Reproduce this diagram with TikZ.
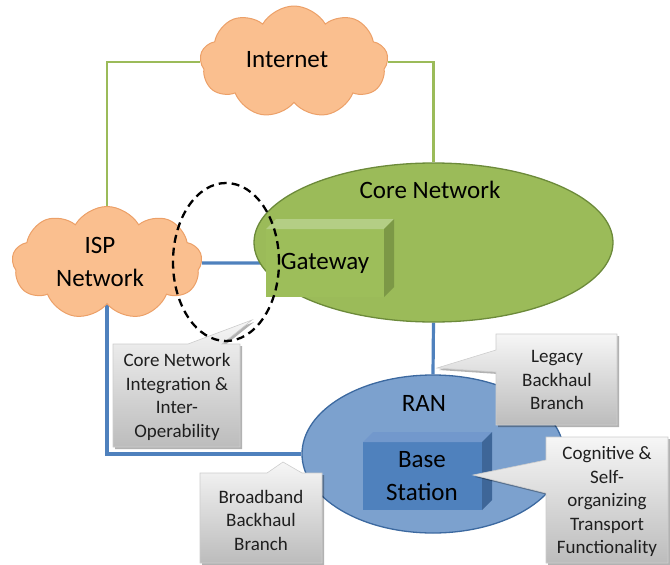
\documentclass[tikz,border=0pt]{standalone}
\usepackage{fontspec}
\setmainfont{Carlito}
\usetikzlibrary{shapes.symbols,shapes.geometric,calc,backgrounds,shadows}

\definecolor{cloudfill}{RGB}{250,191,143}
\definecolor{clouddraw}{RGB}{236,160,104}
\definecolor{corefill}{RGB}{155,187,89}
\definecolor{coredraw}{RGB}{108,138,58}
\definecolor{gwfront}{RGB}{157,190,90}
\definecolor{gwtop}{RGB}{180,206,133}
\definecolor{gwside}{RGB}{124,152,70}
\definecolor{ranfill}{RGB}{124,161,206}
\definecolor{randraw}{RGB}{60,105,160}
\definecolor{bsfront}{RGB}{79,129,189}
\definecolor{bstop}{RGB}{114,152,204}
\definecolor{bsside}{RGB}{62,102,152}
\definecolor{linkgreen}{RGB}{155,187,89}
\definecolor{linkblue}{RGB}{79,129,189}
\definecolor{calltop}{RGB}{246,246,246}
\definecolor{callbot}{RGB}{188,188,188}
\definecolor{callline}{RGB}{205,205,205}

\begin{document}
\begin{tikzpicture}[x=1pt,y=-1pt,
  netcloud/.style={cloud, cloud puffs=9, cloud puff arc=120, cloud ignores aspect,
    fill=cloudfill, draw=clouddraw, line width=1pt, inner sep=0pt},
  bigtext/.style={font=\fontsize{25}{33}\selectfont, align=center, inner sep=0pt},
  smalltext/.style={font=\fontsize{19}{23.5}\selectfont, align=center, inner sep=0pt, text=black!88},
  facebox/.style={inner sep=0pt, outer sep=0pt},
  callbox/.style={top color=calltop, bottom color=callbot, draw=callline, line width=0.6pt,
    drop shadow={shadow xshift=2pt, shadow yshift=-2pt, opacity=0.3, fill=black}},
  greenlink/.style={draw=linkgreen, line width=2.3pt},
  bluelink/.style={draw=linkblue, line width=3.2pt},
]
\useasboundingbox (0,0) rectangle (670,565);

% clouds
\node[netcloud, minimum width=188pt, minimum height=112pt] (inet) at (294,62) {};
\node[bigtext] (inetlabel) at (287,60) {Internet};
\node[netcloud, minimum width=190pt, minimum height=113pt] (isp) at (107,263) {};
\node[bigtext] (isplabel) at (100,262) {ISP\\Network};

% core network with gateway
\node[ellipse, fill=corefill, draw=coredraw, line width=1.3pt, inner sep=0pt,
      minimum width=359pt, minimum height=159pt] (core) at (433.5,242.5) {};
\node[bigtext] (corelabel) at (430,190) {Core Network};
\node[facebox, fill=gwfront, minimum width=118pt, minimum height=68pt] (gw) at (325,263) {};
\fill[gwtop] (gw.north west) -- ++(10,-10) -- ($(gw.north east)+(10,-10)$) -- (gw.north east) -- cycle;
\fill[gwside] (gw.north east) -- ++(10,-10) -- ($(gw.south east)+(10,-10)$) -- (gw.south east) -- cycle;
\node[bigtext] (gwlabel) at (gw.center) {Gateway};

% radio access network with base station
\node[ellipse, fill=ranfill, draw=randraw, line width=1.3pt, inner sep=0pt,
      minimum width=262pt, minimum height=158pt] (ran) at (433,454) {};
\node[bigtext] (ranlabel) at (424,403) {RAN};
\node[facebox, fill=bsfront, minimum width=119pt, minimum height=68pt] (bs) at (422.5,476) {};
\fill[bstop] (bs.north west) -- ++(10,-10) -- ($(bs.north east)+(10,-10)$) -- (bs.north east) -- cycle;
\fill[bsside] (bs.north east) -- ++(10,-10) -- ($(bs.south east)+(10,-10)$) -- (bs.south east) -- cycle;
\node[bigtext] (bslabel) at (422,476) {Base\\Station};

% links
\begin{pgfonlayer}{background}
  \draw[greenlink] (inet.west) -| (isp.north);
  \draw[greenlink] (inet.east) -| (core.north);
  \draw[bluelink] (isp.east) -- (gw.west);
  \draw[bluelink] (isp.south) |- (ran.west);
  \draw[bluelink] (core.south) -- (ran.north);
\end{pgfonlayer}

% callouts
\path[callbox] (113,344) -- (188,344) -- (252,320) -- (222,344) -- (240,344)
  -- (240,447) -- (113,447) -- cycle;
\node[smalltext] (integtext) at (177,397) {Core Network\\Integration \&\\Inter-\\Operability};

\path[callbox] (496,334) -- (617,334) -- (617,425) -- (496,425) -- (496,372)
  -- (437,368) -- (496,350) -- cycle;
\node[smalltext] (legacytext) at (557,380) {Legacy\\Backhaul\\Branch};

\path[callbox] (546,437) -- (668,437) -- (668,563) -- (546,563) -- (546,493)
  -- (473,475) -- (546,460) -- cycle;
\node[smalltext] (cogtext) at (607,501.5) {Cognitive \&\\Self-\\organizing\\Transport\\Functionality};

\path[callbox] (200,473) -- (267,473) -- (283,462) -- (302,473) -- (322,473)
  -- (322,563) -- (200,563) -- cycle;
\node[smalltext] (bbtext) at (261,520) {Broadband\\Backhaul\\Branch};

% integration zone
\node[ellipse, draw=black, line width=2.3pt, dash pattern=on 8pt off 5pt, inner sep=0pt,
      minimum width=106pt, minimum height=158pt] (integ) at (226,262) {};
\end{tikzpicture}
\end{document}
